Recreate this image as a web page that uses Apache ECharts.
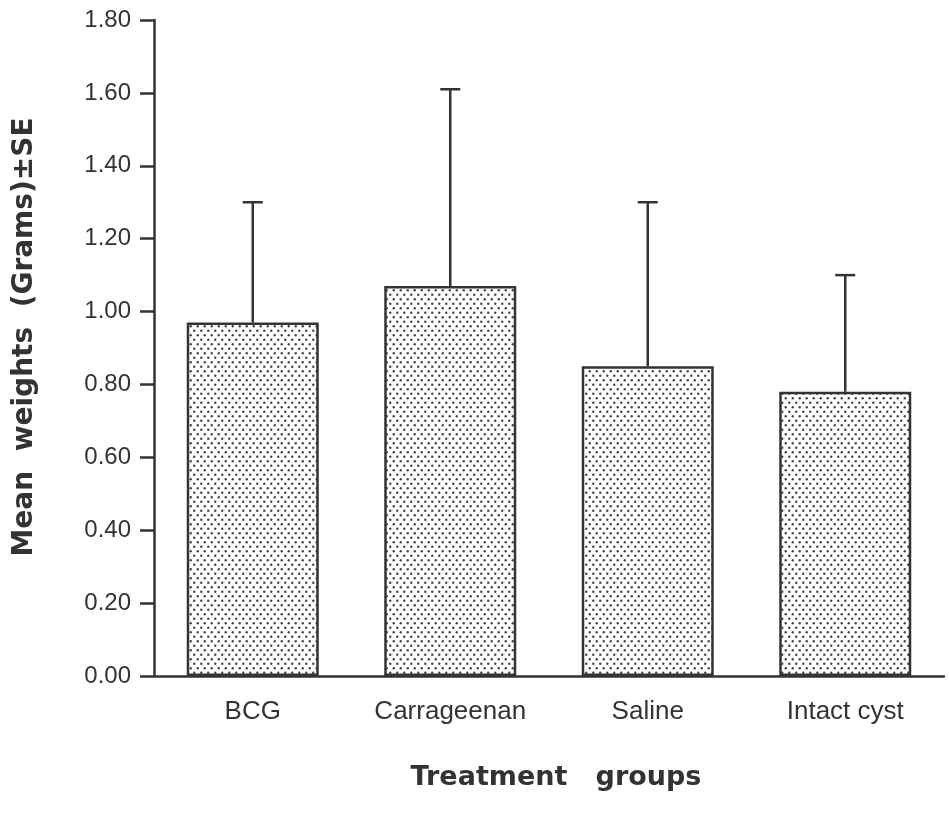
<!DOCTYPE html>
<html>
<head>
<meta charset="utf-8">
<script src="https://cdn.jsdelivr.net/npm/echarts@6/dist/echarts.min.js"></script>
<style>
html,body{margin:0;padding:0;background:#fff;}
#chart{width:949px;height:813px;}
</style>
</head>
<body>
<div id="chart"></div>
<script>
var categories = ['BCG', 'Carrageenan', 'Saline', 'Intact cyst'];
var meanWeights = [0.97, 1.07, 0.85, 0.78];
var seValues = [0.33, 0.54, 0.45, 0.32];
var yTicks = { min: 0, max: 1.8, interval: 0.2 };

function makePattern() {
  var c = document.createElement('canvas');
  c.width = 7; c.height = 9;
  var ctx = c.getContext('2d');
  ctx.fillStyle = '#ffffff';
  ctx.fillRect(0, 0, 7, 9);
  ctx.fillStyle = '#444444';
  ctx.beginPath(); ctx.arc(1.75, 2.25, 1.2, 0, Math.PI * 2); ctx.fill();
  ctx.beginPath(); ctx.arc(5.25, 6.75, 1.2, 0, Math.PI * 2); ctx.fill();
  return c;
}

var errData = categories.map(function (c, i) { return [i, meanWeights[i], seValues[i]]; });
var ink = '#333333';

var chart = echarts.init(document.getElementById('chart'), null, { renderer: 'canvas' });
chart.setOption({
  backgroundColor: '#ffffff',
  animation: false,
  grid: { left: 154, top: 20, right: 5, bottom: 137, containLabel: false },
  xAxis: {
    type: 'category',
    data: categories,
    axisLine: { lineStyle: { color: ink, width: 2.5 } },
    axisTick: { alignWithLabel: true, length: 12, lineStyle: { color: ink, width: 2.5 } },
    axisLabel: { color: ink, fontFamily: 'Liberation Sans, Arial, sans-serif', fontSize: 26, margin: 23 }
  },
  yAxis: {
    type: 'value',
    min: yTicks.min, max: yTicks.max, interval: yTicks.interval,
    splitLine: { show: false },
    axisLine: { show: true, lineStyle: { color: ink, width: 2.5 } },
    axisTick: { show: true, length: 14, lineStyle: { color: ink, width: 2.5 } },
    axisLabel: { color: ink, fontFamily: 'Liberation Sans, Arial, sans-serif', fontSize: 24, margin: 23,
      formatter: function (v) { return v.toFixed(2); } }
  },
  series: [
    {
      type: 'bar',
      data: meanWeights,
      barWidth: 132,
      itemStyle: { color: { image: makePattern(), repeat: 'repeat' }, borderColor: ink, borderWidth: 2.5 },
      z: 2
    },
    {
      type: 'custom',
      data: errData,
      encode: { x: 0, y: 1 },
      z: 3,
      renderItem: function (params, api) {
        var i = api.value(0), m = api.value(1), se = api.value(2);
        var base = api.coord([i, m]);
        var top = api.coord([i, m + se]);
        var half = 10;
        return {
          type: 'group',
          children: [
            { type: 'line', shape: { x1: top[0], y1: base[1], x2: top[0], y2: top[1] }, style: { stroke: ink, lineWidth: 2.5 } },
            { type: 'line', shape: { x1: top[0] - half, y1: top[1], x2: top[0] + half, y2: top[1] }, style: { stroke: ink, lineWidth: 2.5 } }
          ]
        };
      }
    }
  ],
  graphic: [
    {
      type: 'text', x: 25, y: 337, rotation: Math.PI / 2,
      style: { text: 'Mean  weights  (Grams)±SE', fill: ink, font: 'bold 28px "DejaVu Sans", sans-serif', textAlign: 'center', textVerticalAlign: 'middle' }
    },
    {
      type: 'text', x: 556, y: 778,
      style: { text: 'Treatment   groups', fill: ink, font: 'bold 27px "DejaVu Sans", sans-serif', textAlign: 'center', textVerticalAlign: 'middle' }
    }
  ]
});
</script>
</body>
</html>
